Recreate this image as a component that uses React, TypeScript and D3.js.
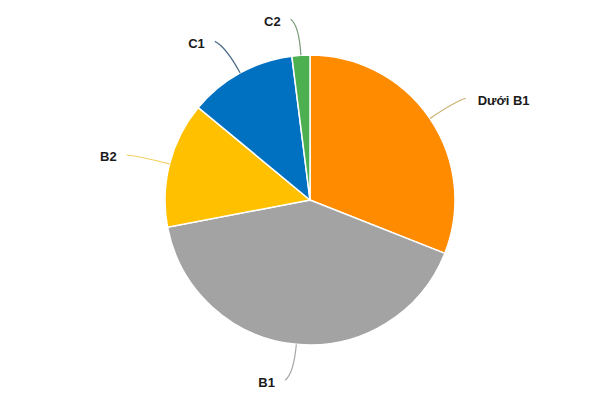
import React from "react";
import * as d3 from "d3";

const categories = ["Dưới B1", "B1", "B2", "C1", "C2"];
const values = [31, 41, 14, 12, 2];
const colors = ["#FF8C00", "#A3A3A3", "#FFC000", "#0070C0", "#4CAF50"];
const leaderColors = ["#C8B070", "#A8A8A8", "#F5D060", "#4A6A88", "#7A9A7A"];

const W = 600, H = 400;
const cx = 310, cy = 200, R = 145;

export default function App() {
  const pie = d3.pie<number>().sort(null).startAngle(0).endAngle(2 * Math.PI);
  const arcs = pie(values);
  const arc = d3.arc<d3.PieArcDatum<number>>().innerRadius(0).outerRadius(R);
  const pt = (a: number, r: number): [number, number] => [Math.sin(a) * r, -Math.cos(a) * r];

  return (
    <svg width={W} height={H} style={{ position: "absolute", left: 0, top: 0, background: "#fff" }}>
      <g transform={`translate(${cx},${cy})`}>
        {arcs.map((a, i) => (
          <path key={i} d={arc(a) || ""} fill={colors[i]} stroke="#fff" strokeWidth={1.5} />
        ))}
        {arcs.map((a, i) => {
          const mid = (a.startAngle + a.endAngle) / 2;
          const right = Math.sin(mid) > 0;
          const p0 = pt(mid, R);
          const c = pt(mid, R + 30);
          const e0 = pt(mid, R + 36);
          const e: [number, number] = [e0[0] + (right ? 6 : -8), e0[1]];
          const path = `M${p0[0]},${p0[1]} Q${c[0]},${c[1]} ${e[0]},${e[1]}`;
          const tx = right ? e[0] + 12 : e[0] - 10;
          return (
            <g key={"l" + i}>
              <path d={path} fill="none" stroke={leaderColors[i]} strokeWidth={1.2} />
              <text
                x={tx}
                y={e[1] + 3}
                textAnchor={right ? "start" : "end"}
                dominantBaseline="middle"
                fontFamily="Liberation Sans, Arial, sans-serif"
                fontWeight="bold"
                fontSize={13}
                fill="#1a1a1a"
              >
                {categories[i]}
              </text>
            </g>
          );
        })}
      </g>
    </svg>
  );
}
